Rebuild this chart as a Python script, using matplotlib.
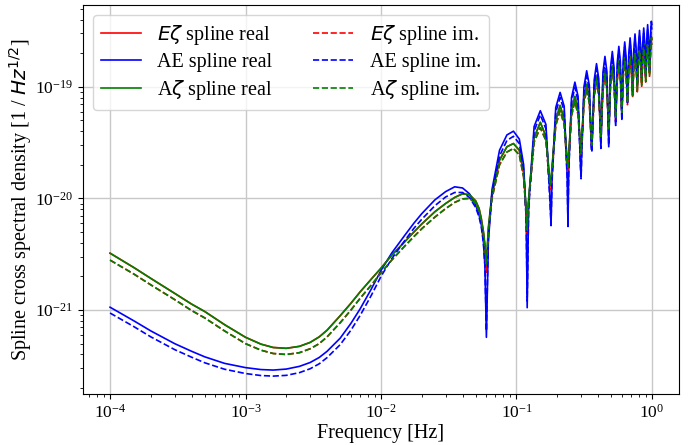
import numpy as np
import matplotlib.pyplot as plt

plt.rcParams['font.family'] = 'serif'
plt.rcParams['font.serif'] = ['Liberation Serif', 'DejaVu Serif']
plt.rcParams['mathtext.fontset'] = 'dejavusans'

# frequencies [Hz], smooth low-frequency part
freq_low = [1e-4, 1.5e-4, 2e-4, 3e-4, 4e-4, 5e-4, 7e-4, 1e-3, 1.3e-3, 1.6e-3, 2e-3,
            2.5e-3, 3e-3, 3.5e-3, 4e-3, 5e-3, 6e-3, 7e-3, 8.5e-3, 1e-2, 1.2e-2,
            1.5e-2, 1.75e-2, 2e-2, 2.5e-2, 3e-2, 3.5e-2, 4e-2, 4.5e-2, 5e-2, 5.3e-2,
            5.5e-2, 5.7e-2, 5.85e-2, 6e-2]

# frequencies [Hz], oscillating part (one row per lobe)
freq_osc = [0.062, 0.066, 0.075, 0.085, 0.095, 0.105, 0.113, 0.118,
            0.12, 0.123, 0.135, 0.15, 0.165, 0.177,
            0.18, 0.183, 0.195, 0.21, 0.225, 0.237,
            0.24, 0.243, 0.255, 0.27, 0.285, 0.297,
            0.30, 0.303, 0.315, 0.33, 0.345, 0.357,
            0.36, 0.375, 0.39, 0.405,
            0.42, 0.435, 0.45, 0.465,
            0.48, 0.495, 0.51, 0.525,
            0.54, 0.555, 0.57, 0.585,
            0.60, 0.615, 0.63, 0.645,
            0.66, 0.675, 0.69, 0.705,
            0.72, 0.735, 0.75, 0.765,
            0.78, 0.795, 0.81, 0.825,
            0.84, 0.855, 0.87, 0.885,
            0.90, 0.915, 0.93, 0.945,
            0.96, 0.975, 0.99, 1.0]

# AE real
ae_re_low = [1.06e-21, 8.0e-22, 6.5e-22, 5.0e-22, 4.27e-22, 3.81e-22, 3.33e-22, 3.05e-22,
             2.93e-22, 2.9e-22, 2.96e-22, 3.13e-22, 3.39e-22, 3.76e-22, 4.27e-22, 5.6e-22,
             7.6e-22, 1.02e-21, 1.55e-21, 2.26e-21, 3.24e-21, 4.68e-21, 6.0e-21, 7.3e-21,
             9.7e-21, 1.15e-20, 1.27e-20, 1.24e-20, 1.1e-20, 8.7e-21, 7.1e-21, 5.8e-21,
             4.2e-21, 2.5e-21, 5.7e-22]
ae_re_osc = [4e-21, 1.2e-20, 2.7e-20, 3.7e-20, 4.0e-20, 3.4e-20, 2.0e-20, 7e-21,
             1.05e-21, 9e-21, 4.4e-20, 6.1e-20, 4.6e-20, 1.0e-20,
             5.7e-21, 1.5e-20, 6.5e-20, 8.9e-20, 6.7e-20, 1.6e-20,
             5.6e-21, 1.8e-20, 8.0e-20, 1.1e-19, 8.2e-20, 2.0e-20,
             1.57e-20, 2.6e-20, 1.0e-19, 1.39e-19, 1.03e-19, 3.0e-20,
             2.7e-20, 1.15e-19, 1.61e-19, 1.18e-19,
             2.9e-20, 1.34e-19, 1.87e-19, 1.37e-19,
             2.9e-20, 1.48e-19, 2.07e-19, 1.5e-19,
             4.7e-20, 1.65e-19, 2.3e-19, 1.68e-19,
             5.1e-20, 1.8e-19, 2.52e-19, 1.83e-19,
             7.6e-20, 1.96e-19, 2.74e-19, 2.0e-19,
             9.6e-20, 2.12e-19, 2.97e-19, 2.16e-19,
             1.09e-19, 2.28e-19, 3.2e-19, 2.32e-19,
             1.28e-19, 2.4e-19, 3.36e-19, 2.45e-19,
             1.3e-19, 2.57e-19, 3.6e-19, 2.62e-19,
             1.5e-19, 2.75e-19, 3.86e-19, 3.6e-19]

# AE imaginary
ae_im_low = [9.4e-22, 7.1e-22, 5.75e-22, 4.42e-22, 3.78e-22, 3.37e-22, 2.95e-22, 2.7e-22,
             2.59e-22, 2.56e-22, 2.6e-22, 2.75e-22, 2.98e-22, 3.3e-22, 3.75e-22, 4.9e-22,
             6.6e-22, 8.9e-22, 1.36e-21, 2.0e-21, 2.88e-21, 4.2e-21, 5.4e-21, 6.5e-21,
             8.6e-21, 1.03e-20, 1.13e-20, 1.13e-20, 1.02e-20, 8.3e-21, 6.8e-21, 5.6e-21,
             4.0e-21, 2.5e-21, 6.5e-22]
ae_im_osc = [4.5e-21, 1.1e-20, 2.4e-20, 3.3e-20, 3.6e-20, 3.1e-20, 1.8e-20, 6.5e-21,
             1.2e-21, 8e-21, 4.0e-20, 5.6e-20, 4.2e-20, 9e-21,
             6e-21, 1.4e-20, 5.9e-20, 8.0e-20, 6.1e-20, 1.5e-20,
             6e-21, 1.7e-20, 7.2e-20, 9.9e-20, 7.4e-20, 1.9e-20,
             1.5e-20, 2.4e-20, 9.0e-20, 1.25e-19, 9.3e-20, 2.8e-20,
             2.6e-20, 1.04e-19, 1.45e-19, 1.06e-19,
             2.8e-20, 1.2e-19, 1.68e-19, 1.23e-19,
             3.0e-20, 1.33e-19, 1.86e-19, 1.35e-19,
             4.5e-20, 1.48e-19, 2.07e-19, 1.51e-19,
             5.0e-20, 1.62e-19, 2.27e-19, 1.65e-19,
             7.2e-20, 1.76e-19, 2.47e-19, 1.8e-19,
             9.0e-20, 1.91e-19, 2.67e-19, 1.94e-19,
             1.02e-19, 2.05e-19, 2.88e-19, 2.09e-19,
             1.2e-19, 2.16e-19, 3.02e-19, 2.2e-19,
             1.25e-19, 2.31e-19, 3.24e-19, 2.36e-19,
             1.4e-19, 2.48e-19, 3.47e-19, 3.25e-19]

# A zeta real
az_re_low = [3.23e-21, 2.4e-21, 1.92e-21, 1.41e-21, 1.13e-21, 9.7e-22, 7.4e-22, 5.7e-22,
             4.95e-22, 4.62e-22, 4.54e-22, 4.73e-22, 5.13e-22, 5.75e-22, 6.6e-22, 8.9e-22,
             1.15e-21, 1.45e-21, 1.9e-21, 2.37e-21, 3.1e-21, 4.1e-21, 5.0e-21, 5.9e-21,
             7.6e-21, 9.0e-21, 1.02e-20, 1.1e-20, 1.08e-20, 9.5e-21, 8.1e-21, 6.6e-21,
             5.1e-21, 3.9e-21, 2.6e-21]
az_re_osc = [5.5e-21, 1.1e-20, 2.2e-20, 2.9e-20, 3.1e-20, 2.7e-20, 1.7e-20, 8e-21,
             5.5e-21, 1.0e-20, 3.5e-20, 4.8e-20, 3.6e-20, 1.4e-20,
             1.5e-20, 1.9e-20, 5.0e-20, 6.8e-20, 5.1e-20, 2.2e-20,
             2.0e-20, 2.5e-20, 6.1e-20, 8.2e-20, 6.2e-20, 2.9e-20,
             2.6e-20, 3.2e-20, 7.8e-20, 1.05e-19, 7.9e-20, 3.6e-20,
             3.2e-20, 9.0e-20, 1.22e-19, 9.2e-20,
             3.8e-20, 1.03e-19, 1.4e-19, 1.05e-19,
             4.3e-20, 1.15e-19, 1.55e-19, 1.17e-19,
             5.5e-20, 1.27e-19, 1.72e-19, 1.3e-19,
             6.2e-20, 1.39e-19, 1.88e-19, 1.42e-19,
             7.6e-20, 1.5e-19, 2.03e-19, 1.53e-19,
             8.8e-20, 1.63e-19, 2.2e-19, 1.66e-19,
             9.8e-20, 1.75e-19, 2.36e-19, 1.78e-19,
             1.1e-19, 1.83e-19, 2.47e-19, 1.86e-19,
             1.2e-19, 1.95e-19, 2.63e-19, 1.98e-19,
             1.35e-19, 2.07e-19, 2.8e-19, 2.65e-19]

# A zeta imaginary
az_im_low = [2.8e-21, 2.1e-21, 1.68e-21, 1.24e-21, 9.9e-22, 8.5e-22, 6.5e-22, 5.0e-22,
             4.37e-22, 4.08e-22, 4.0e-22, 4.15e-22, 4.5e-22, 5.0e-22, 5.75e-22, 7.7e-22,
             1.0e-21, 1.27e-21, 1.68e-21, 2.15e-21, 2.8e-21, 3.75e-21, 4.55e-21, 5.35e-21,
             6.8e-21, 8.1e-21, 9.2e-21, 9.9e-21, 1.0e-20, 9.0e-21, 7.7e-21, 6.3e-21,
             4.8e-21, 3.6e-21, 2.5e-21]
az_im_osc = [5e-21, 1.0e-20, 2.0e-20, 2.6e-20, 2.8e-20, 2.45e-20, 1.55e-20, 7.5e-21,
             5.2e-21, 9.5e-21, 3.2e-20, 4.3e-20, 3.3e-20, 1.3e-20,
             1.4e-20, 1.8e-20, 4.5e-20, 6.1e-20, 4.6e-20, 2.0e-20,
             1.9e-20, 2.3e-20, 5.5e-20, 7.4e-20, 5.6e-20, 2.7e-20,
             2.5e-20, 3.0e-20, 7.1e-20, 9.5e-20, 7.2e-20, 3.4e-20,
             3.0e-20, 8.2e-20, 1.1e-19, 8.3e-20,
             3.6e-20, 9.3e-20, 1.26e-19, 9.5e-20,
             4.1e-20, 1.04e-19, 1.4e-19, 1.06e-19,
             5.2e-20, 1.15e-19, 1.55e-19, 1.17e-19,
             5.9e-20, 1.25e-19, 1.69e-19, 1.28e-19,
             7.2e-20, 1.36e-19, 1.83e-19, 1.38e-19,
             8.3e-20, 1.47e-19, 1.98e-19, 1.5e-19,
             9.3e-20, 1.57e-19, 2.12e-19, 1.6e-19,
             1.04e-19, 1.65e-19, 2.22e-19, 1.68e-19,
             1.13e-19, 1.76e-19, 2.37e-19, 1.79e-19,
             1.27e-19, 1.87e-19, 2.52e-19, 2.38e-19]

# E zeta real (almost on top of A zeta, slightly deeper nulls)
ez_re_low = [3.23e-21, 2.4e-21, 1.92e-21, 1.41e-21, 1.13e-21, 9.7e-22, 7.4e-22, 5.7e-22,
             4.95e-22, 4.62e-22, 4.54e-22, 4.73e-22, 5.13e-22, 5.75e-22, 6.6e-22, 8.9e-22,
             1.15e-21, 1.45e-21, 1.9e-21, 2.37e-21, 3.1e-21, 4.1e-21, 5.0e-21, 5.9e-21,
             7.6e-21, 9.0e-21, 1.02e-20, 1.1e-20, 1.08e-20, 9.5e-21, 8.1e-21, 6.6e-21,
             5.0e-21, 3.7e-21, 2.2e-21]
ez_re_osc = [5.2e-21, 1.1e-20, 2.2e-20, 2.9e-20, 3.1e-20, 2.7e-20, 1.7e-20, 7.5e-21,
             4.5e-21, 9.5e-21, 3.5e-20, 4.8e-20, 3.6e-20, 1.3e-20,
             1.3e-20, 1.8e-20, 5.0e-20, 6.8e-20, 5.1e-20, 2.1e-20,
             1.8e-20, 2.4e-20, 6.1e-20, 8.2e-20, 6.2e-20, 2.8e-20,
             2.4e-20, 3.1e-20, 7.8e-20, 1.05e-19, 7.9e-20, 3.5e-20,
             3.0e-20, 9.0e-20, 1.22e-19, 9.2e-20,
             3.6e-20, 1.03e-19, 1.4e-19, 1.05e-19,
             4.1e-20, 1.15e-19, 1.55e-19, 1.17e-19,
             5.2e-20, 1.27e-19, 1.72e-19, 1.3e-19,
             6.0e-20, 1.39e-19, 1.88e-19, 1.42e-19,
             7.3e-20, 1.5e-19, 2.03e-19, 1.53e-19,
             8.5e-20, 1.63e-19, 2.2e-19, 1.66e-19,
             9.5e-20, 1.75e-19, 2.36e-19, 1.78e-19,
             1.07e-19, 1.83e-19, 2.47e-19, 1.86e-19,
             1.17e-19, 1.95e-19, 2.63e-19, 1.98e-19,
             1.32e-19, 2.07e-19, 2.8e-19, 2.65e-19]

# E zeta imaginary
ez_im_low = [2.8e-21, 2.1e-21, 1.68e-21, 1.24e-21, 9.9e-22, 8.5e-22, 6.5e-22, 5.0e-22,
             4.37e-22, 4.08e-22, 4.0e-22, 4.15e-22, 4.5e-22, 5.0e-22, 5.75e-22, 7.7e-22,
             1.0e-21, 1.27e-21, 1.68e-21, 2.15e-21, 2.8e-21, 3.75e-21, 4.55e-21, 5.35e-21,
             6.8e-21, 8.1e-21, 9.2e-21, 9.9e-21, 1.0e-20, 9.0e-21, 7.7e-21, 6.3e-21,
             4.6e-21, 3.4e-21, 2.1e-21]
ez_im_osc = [4.7e-21, 1.0e-20, 2.0e-20, 2.6e-20, 2.8e-20, 2.45e-20, 1.55e-20, 7e-21,
             4.3e-21, 9e-21, 3.2e-20, 4.3e-20, 3.3e-20, 1.2e-20,
             1.2e-20, 1.7e-20, 4.5e-20, 6.1e-20, 4.6e-20, 1.9e-20,
             1.7e-20, 2.2e-20, 5.5e-20, 7.4e-20, 5.6e-20, 2.6e-20,
             2.3e-20, 2.9e-20, 7.1e-20, 9.5e-20, 7.2e-20, 3.3e-20,
             2.8e-20, 8.2e-20, 1.1e-19, 8.3e-20,
             3.4e-20, 9.3e-20, 1.26e-19, 9.5e-20,
             3.9e-20, 1.04e-19, 1.4e-19, 1.06e-19,
             4.9e-20, 1.15e-19, 1.55e-19, 1.17e-19,
             5.7e-20, 1.25e-19, 1.69e-19, 1.28e-19,
             6.9e-20, 1.36e-19, 1.83e-19, 1.38e-19,
             8.0e-20, 1.47e-19, 1.98e-19, 1.5e-19,
             9.0e-20, 1.57e-19, 2.12e-19, 1.6e-19,
             1.01e-19, 1.65e-19, 2.22e-19, 1.68e-19,
             1.1e-19, 1.76e-19, 2.37e-19, 1.79e-19,
             1.24e-19, 1.87e-19, 2.52e-19, 2.38e-19]

y_major = [1e-21, 1e-20, 1e-19]

freq = np.array(freq_low + freq_osc)

fig, ax = plt.subplots(figsize=(6.99, 4.45), dpi=100)
fig.subplots_adjust(left=0.1187, right=0.9714, bottom=0.1146, top=0.9888)

lw = 1.2
ax.loglog(freq, ez_re_low + ez_re_osc, 'r-', lw=lw, label=r'$E\zeta$ spline real')
ax.loglog(freq, ae_re_low + ae_re_osc, 'b-', lw=lw, label='AE spline real')
ax.loglog(freq, az_re_low + az_re_osc, 'g-', lw=lw, label=r'A$\zeta$ spline real')
ax.loglog(freq, ez_im_low + ez_im_osc, 'r--', lw=lw, label=r'$E\zeta$ spline im.')
ax.loglog(freq, ae_im_low + ae_im_osc, 'b--', lw=lw, label='AE spline im.')
ax.loglog(freq, az_im_low + az_im_osc, 'g--', lw=lw, label=r'A$\zeta$ spline im.')

ax.set_yticks(y_major)
ax.set_ylim(1.77e-22, 5.4e-19)
ax.tick_params(labelsize=12.5)
ax.set_xlabel('Frequency [Hz]', fontsize=14.5, labelpad=2)
ax.set_ylabel(r'Spline cross spectral density [1 / $Hz^{1/2}$]', fontsize=14.5, labelpad=1)
ax.grid(True, color='#c8c8c8', lw=1.0)
ax.legend(loc='upper left', ncol=2, fontsize=14.5, labelspacing=0.3)

fig.savefig('out.png', dpi=100)
